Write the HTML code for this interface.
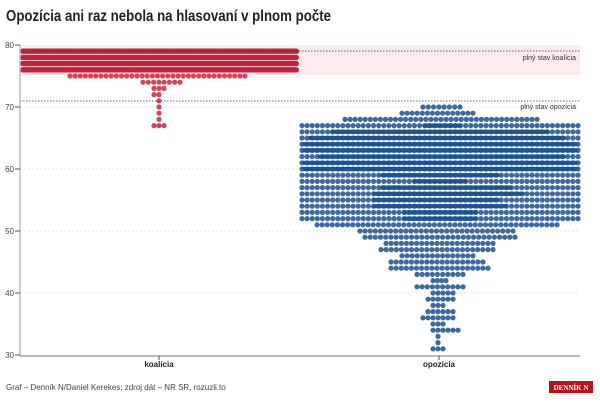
<!DOCTYPE html>
<html><head><meta charset="utf-8"><style>
body{margin:0;background:#fff;width:600px;height:400px;overflow:hidden;font-family:"Liberation Sans",sans-serif}
</style></head><body>
<svg id="s" width="600" height="400" xmlns="http://www.w3.org/2000/svg" font-family="Liberation Sans, sans-serif">
<text x="6" y="21" font-size="15.5" font-weight="bold" fill="#222" textLength="325" lengthAdjust="spacingAndGlyphs">Opozícia ani raz nebola na hlasovaní v plnom počte</text>
<rect x="20" y="45" width="560" height="30" fill="#fcecee"/>
<g stroke="#e4e4e4" stroke-dasharray="2,2" stroke-width="1">
<line x1="20" y1="107" x2="580" y2="107"/><line x1="20" y1="169" x2="580" y2="169"/><line x1="20" y1="231" x2="580" y2="231"/><line x1="20" y1="293" x2="580" y2="293"/>
</g>
<g id="dots"></g>
<g stroke="#333" stroke-dasharray="1.5,1.5" stroke-width="0.8">
<line x1="20" y1="51" x2="580" y2="51"/><line x1="20" y1="101" x2="580" y2="101"/>
</g>
<text x="576" y="60" font-size="7" fill="#333" text-anchor="end">plný stav koalícia</text>
<text x="576" y="109" font-size="7" fill="#333" text-anchor="end">plný stav opozícia</text>
<line x1="20" y1="45" x2="20" y2="356" stroke="#bbb" stroke-width="1.5"/>
<line x1="20" y1="356" x2="580" y2="356" stroke="#777" stroke-width="1"/>
<g font-size="8" fill="#444" text-anchor="end">
<text x="14" y="48">80</text><text x="14" y="110">70</text><text x="14" y="172">60</text><text x="14" y="234">50</text><text x="14" y="296">40</text><text x="14" y="358">30</text>
</g>
<g stroke="#555"><line x1="15" y1="45" x2="20" y2="45"/><line x1="15" y1="107" x2="20" y2="107"/><line x1="15" y1="169" x2="20" y2="169"/><line x1="15" y1="231" x2="20" y2="231"/><line x1="15" y1="293" x2="20" y2="293"/><line x1="15" y1="355" x2="20" y2="355"/>
<line x1="159" y1="356" x2="159" y2="360"/><line x1="439" y1="356" x2="439" y2="360"/></g>
<text x="159" y="367" font-size="8" font-weight="bold" fill="#222" text-anchor="middle">koalícia</text>
<text x="439" y="367" font-size="8" font-weight="bold" fill="#222" text-anchor="middle">opozícia</text>
<text x="6" y="390" font-size="8" fill="#444">Graf – Denník N/Daniel Kerekes; zdroj dát – NR SR, rozuzli.to</text>
<rect x="549" y="381" width="44" height="12" fill="#b5121b"/>
<text x="571" y="390" font-size="7" font-family="Liberation Serif, serif" font-weight="bold" fill="#fff" text-anchor="middle">DENNÍK N</text>
</svg>
<script>
var g=document.getElementById('dots'),h='';
function py(v){return 45+(80-v)*6.2;}
function row(v,x1,x2,col){var n=Math.max(1,Math.round((x2-x1)/5.1)+1);var st=n>1?(x2-x1)/(n-1):0;for(var i=0;i<n;i++){h+='<circle cx="'+(x1+i*st).toFixed(1)+'" cy="'+py(v).toFixed(1)+'" r="2.6" fill="'+col+'"/>';}}
function bar(v,x1,x2,col,hh){hh=hh||5.4;h+='<rect x="'+x1+'" y="'+(py(v)-hh/2)+'" width="'+(x2-x1)+'" height="'+hh+'" rx="'+hh/2+'" fill="'+col+'"/>';}
var R='#d2455a',RB='#c0233c',B='#3b69a0',BD='#1d5390';
[79,78,77,76].forEach(function(v){bar(v,20,299,RB);});
row(75,70,245,R);row(74,143,180,R);row(73,154,164,R);row(72,154,159,R);
[71,70,69,68].forEach(function(v){row(v,159,159,R);});row(67,154,164,R);
row(70,423,460,B);row(69,402,473,B);row(68,345,537,B);
for(var v=67;v>=52;v--)row(v,302,578,B);
var dk={67:[423,462],66:[330,550],65:[308,566],64:[302,578],63:[302,578],62:[318,566],61:[302,578],60:[302,578],59:[380,500],58:[412,468],57:[380,512],56:[372,525],55:[372,500],54:[372,508],53:[402,478],52:[402,478]};
for(var k in dk)bar(+k,dk[k][0],dk[k][1],BD,4.2);
row(51,317,557,B);row(50,360,513,B);row(49,365,515,B);row(48,386,493,B);row(47,381,493,B);row(46,402,473,B);row(45,391,483,B);row(44,391,488,B);row(43,417,463,B);row(42,433,446,B);row(41,417,463,B);row(40,433,453,B);row(39,428,453,B);row(38,433,443,B);row(37,428,453,B);row(36,423,453,B);row(35,433,443,B);row(34,433,458,B);row(33,438,438,B);row(32,438,438,B);row(31,433,443,B);
g.innerHTML=h;
</script>
</body></html>
